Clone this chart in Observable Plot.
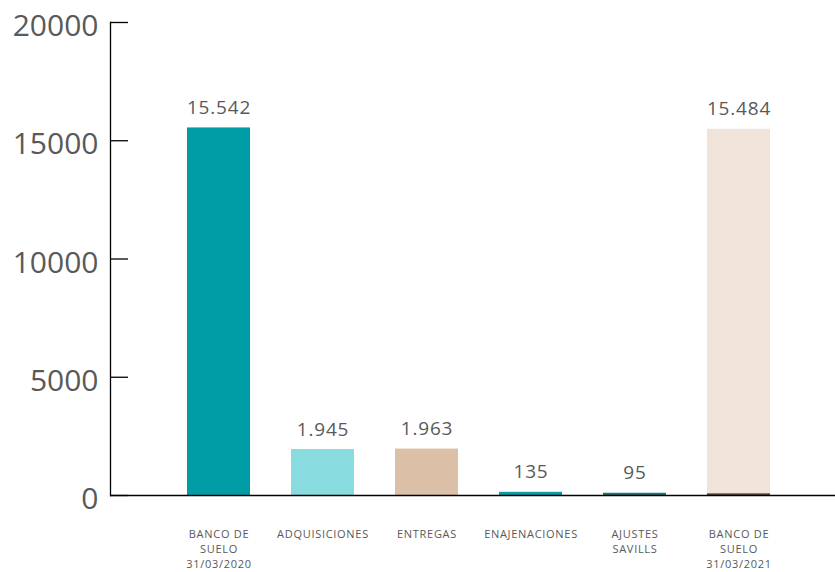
<!DOCTYPE html>
<html>
<head>
<meta charset="utf-8">
<script src="https://cdn.jsdelivr.net/npm/d3@7"></script>
<script src="https://cdn.jsdelivr.net/npm/@observablehq/plot@0.6"></script>
<style>
  html, body { margin: 0; padding: 0; background: #fff; }
  #chart { width: 835px; height: 572px; }
  svg g[aria-label="text"] text { letter-spacing: 0.8px; }
  svg g[aria-label="x-axis tick label"] text { letter-spacing: 0.7px; }
</style>
</head>
<body>
<div id="chart"></div>
<script>
const categories = ["BANCO DE\nSUELO\n31/03/2020", "ADQUISICIONES", "ENTREGAS", "ENAJENACIONES", "AJUSTES\nSAVILLS", "BANCO DE\nSUELO\n31/03/2021"];
const values = [15542, 1945, 1963, 135, 95, 15484];
const valueLabels = ["15.542", "1.945", "1.963", "135", "95", "15.484"];
const barColors = ["#009ca6", "#88dbdf", "#dbbfa6", "#0f9aa2", "#1f7475", "#f0e4da"];
const accentValues = [0, 0, 0, 0, 0, 70];
const accentColors = ["#000", "#000", "#000", "#000", "#000", "#5a4636"];
const yTicks = [0, 5000, 10000, 15000, 20000];

const bars = categories.map((c, i) => ({cat: c, value: values[i], label: valueLabels[i], color: barColors[i]}));
const accents = categories.map((c, i) => ({cat: c, value: accentValues[i], color: accentColors[i]})).filter(d => d.value > 0);

const txt = "#595959";
const font = "'Open Sans', sans-serif";

const chart = Plot.plot({
  width: 835,
  height: 572,
  marginLeft: 110,
  marginRight: 0,
  marginTop: 22,
  marginBottom: 77,
  style: {fontFamily: font, background: "#fff"},
  x: {domain: categories, range: [165.5, 790.5], paddingInner: 0.395, paddingOuter: 0.2, label: null},
  y: {domain: [0, 20000], label: null},
  color: {type: "identity"},
  marks: [
    Plot.barY(bars, {x: "cat", y: "value", fill: "color"}),
    Plot.barY(accents, {x: "cat", y: "value", fill: "color"}),
    Plot.text(bars, {x: "cat", y: "value", text: "label", dy: -20, fontSize: 19, fill: txt}),
    Plot.frame({anchor: "left", stroke: "#000", strokeWidth: 1.3}),
    Plot.ruleY([0], {stroke: "#000", strokeWidth: 1.6}),
    Plot.axisY({ticks: yTicks, tickSize: -18, text: null, stroke: "#000", strokeWidth: 1.3}),
    Plot.axisY({ticks: yTicks, tickSize: 0, tickPadding: 12, tickFormat: d => String(d), fontSize: 30, fill: txt, dy: 4}),
    Plot.axisX({tickSize: 0, tickPadding: 32, fontSize: 11, fill: txt, lineAnchor: "top", lineHeight: 1.37, label: null})
  ]
});
document.getElementById("chart").appendChild(chart);
</script>
</body>
</html>
